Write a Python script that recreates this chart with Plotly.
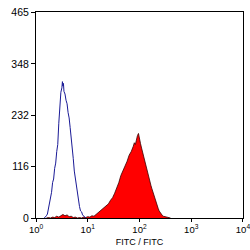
import numpy as np
import plotly.graph_objects as go

# Isotype control (blue outline) : log10 channel positions and counts
blue_log = [0.16, 0.18, 0.20, 0.22, 0.24, 0.26, 0.28, 0.30, 0.32, 0.34, 0.36, 0.38,
            0.40, 0.42, 0.44, 0.46, 0.48, 0.50, 0.51, 0.52, 0.53, 0.54, 0.56, 0.58,
            0.60, 0.62, 0.64, 0.66, 0.68, 0.70, 0.72, 0.74, 0.76, 0.78, 0.80, 0.82,
            0.84, 0.86, 0.88, 0.90, 0.92, 0.94, 0.96]
blue_cnt = [0, 2, 5, 9, 22, 30, 48, 58, 80, 88, 112, 124,
            150, 166, 214, 256, 284, 294, 308, 298, 304, 286, 280, 266,
            258, 238, 226, 204, 184, 156, 134, 106, 90, 66, 52, 34,
            26, 16, 14, 7, 5, 1, 0]

# Stained sample (red filled)
red_log = [0.20, 0.24, 0.28, 0.32, 0.36, 0.40, 0.44, 0.48, 0.52, 0.56, 0.60, 0.64,
           0.68, 0.72, 0.76, 0.80, 0.84, 0.88, 0.92, 0.96, 1.00, 1.04, 1.08, 1.12,
           1.16, 1.20, 1.24, 1.28, 1.32, 1.36, 1.40, 1.44, 1.48, 1.52, 1.56, 1.60,
           1.64, 1.68, 1.72, 1.76, 1.80, 1.84, 1.88, 1.90, 1.92, 1.94, 1.96, 1.98,
           2.00, 2.02, 2.04, 2.06, 2.08, 2.10, 2.12, 2.14, 2.16, 2.18, 2.20, 2.22,
           2.24, 2.26, 2.28, 2.30, 2.32, 2.34, 2.36, 2.38, 2.40, 2.42, 2.44, 2.46,
           2.50, 2.54, 2.60]
red_cnt = [0, 1, 0, 2, 1, 4, 2, 6, 8, 5, 7, 3,
           4, 1, 2, 0, 1, 0, 2, 1, 3, 2, 5, 4,
           8, 10, 14, 18, 22, 26, 32, 40, 46, 56, 66, 80,
           96, 106, 118, 128, 142, 150, 162, 170, 166, 180, 186, 191,
           176, 168, 158, 148, 142, 130, 120, 110, 100, 92, 82, 74,
           66, 58, 50, 42, 34, 28, 22, 16, 12, 8, 6, 4,
           3, 2, 0]

y_ticks = [0, 116, 232, 348, 465]
x_ticks = [1, 10, 100, 1000, 10000]
x_ticktext = ["10<sup>0</sup>", "10<sup>1</sup>", "10<sup>2</sup>", "10<sup>3</sup>", "10<sup>4</sup>"]

fig = go.Figure()
fig.add_trace(go.Scatter(
    x=10 ** np.array(red_log), y=red_cnt, mode="lines",
    line=dict(color="#3a0000", width=0.8), fill="tozeroy", fillcolor="#ff0000",
    showlegend=False, hoverinfo="skip"))
fig.add_trace(go.Scatter(
    x=10 ** np.array(blue_log), y=blue_cnt, mode="lines",
    line=dict(color="#1a1a96", width=1),
    showlegend=False, hoverinfo="skip"))

font = dict(family="Liberation Sans, Arial, sans-serif", size=10, color="black")
fig.update_layout(
    width=250, height=250,
    margin=dict(l=36, r=7, t=6, b=32),
    paper_bgcolor="white", plot_bgcolor="white",
    font=font,
    xaxis=dict(type="log", range=[-0.0005, 4.0005], tickvals=x_ticks, ticktext=x_ticktext,
               ticks="outside", ticklen=3, tickcolor="black", showgrid=False,
               zeroline=False, showline=True, linecolor="black", linewidth=1,
               mirror=True, title=dict(text="FITC / FITC", font=dict(size=9), standoff=4),
               tickfont=dict(size=9.5), automargin=False, ticklabeloverflow="allow"),
    yaxis=dict(range=[0, 465.3], tickvals=y_ticks, ticks="outside", ticklen=4,
               tickcolor="black", showgrid=False, zeroline=False, showline=True,
               linecolor="black", linewidth=1, mirror=True, tickfont=dict(size=10.5),
               ticklabeloverflow="allow"),
)
fig.write_html("out.html")
